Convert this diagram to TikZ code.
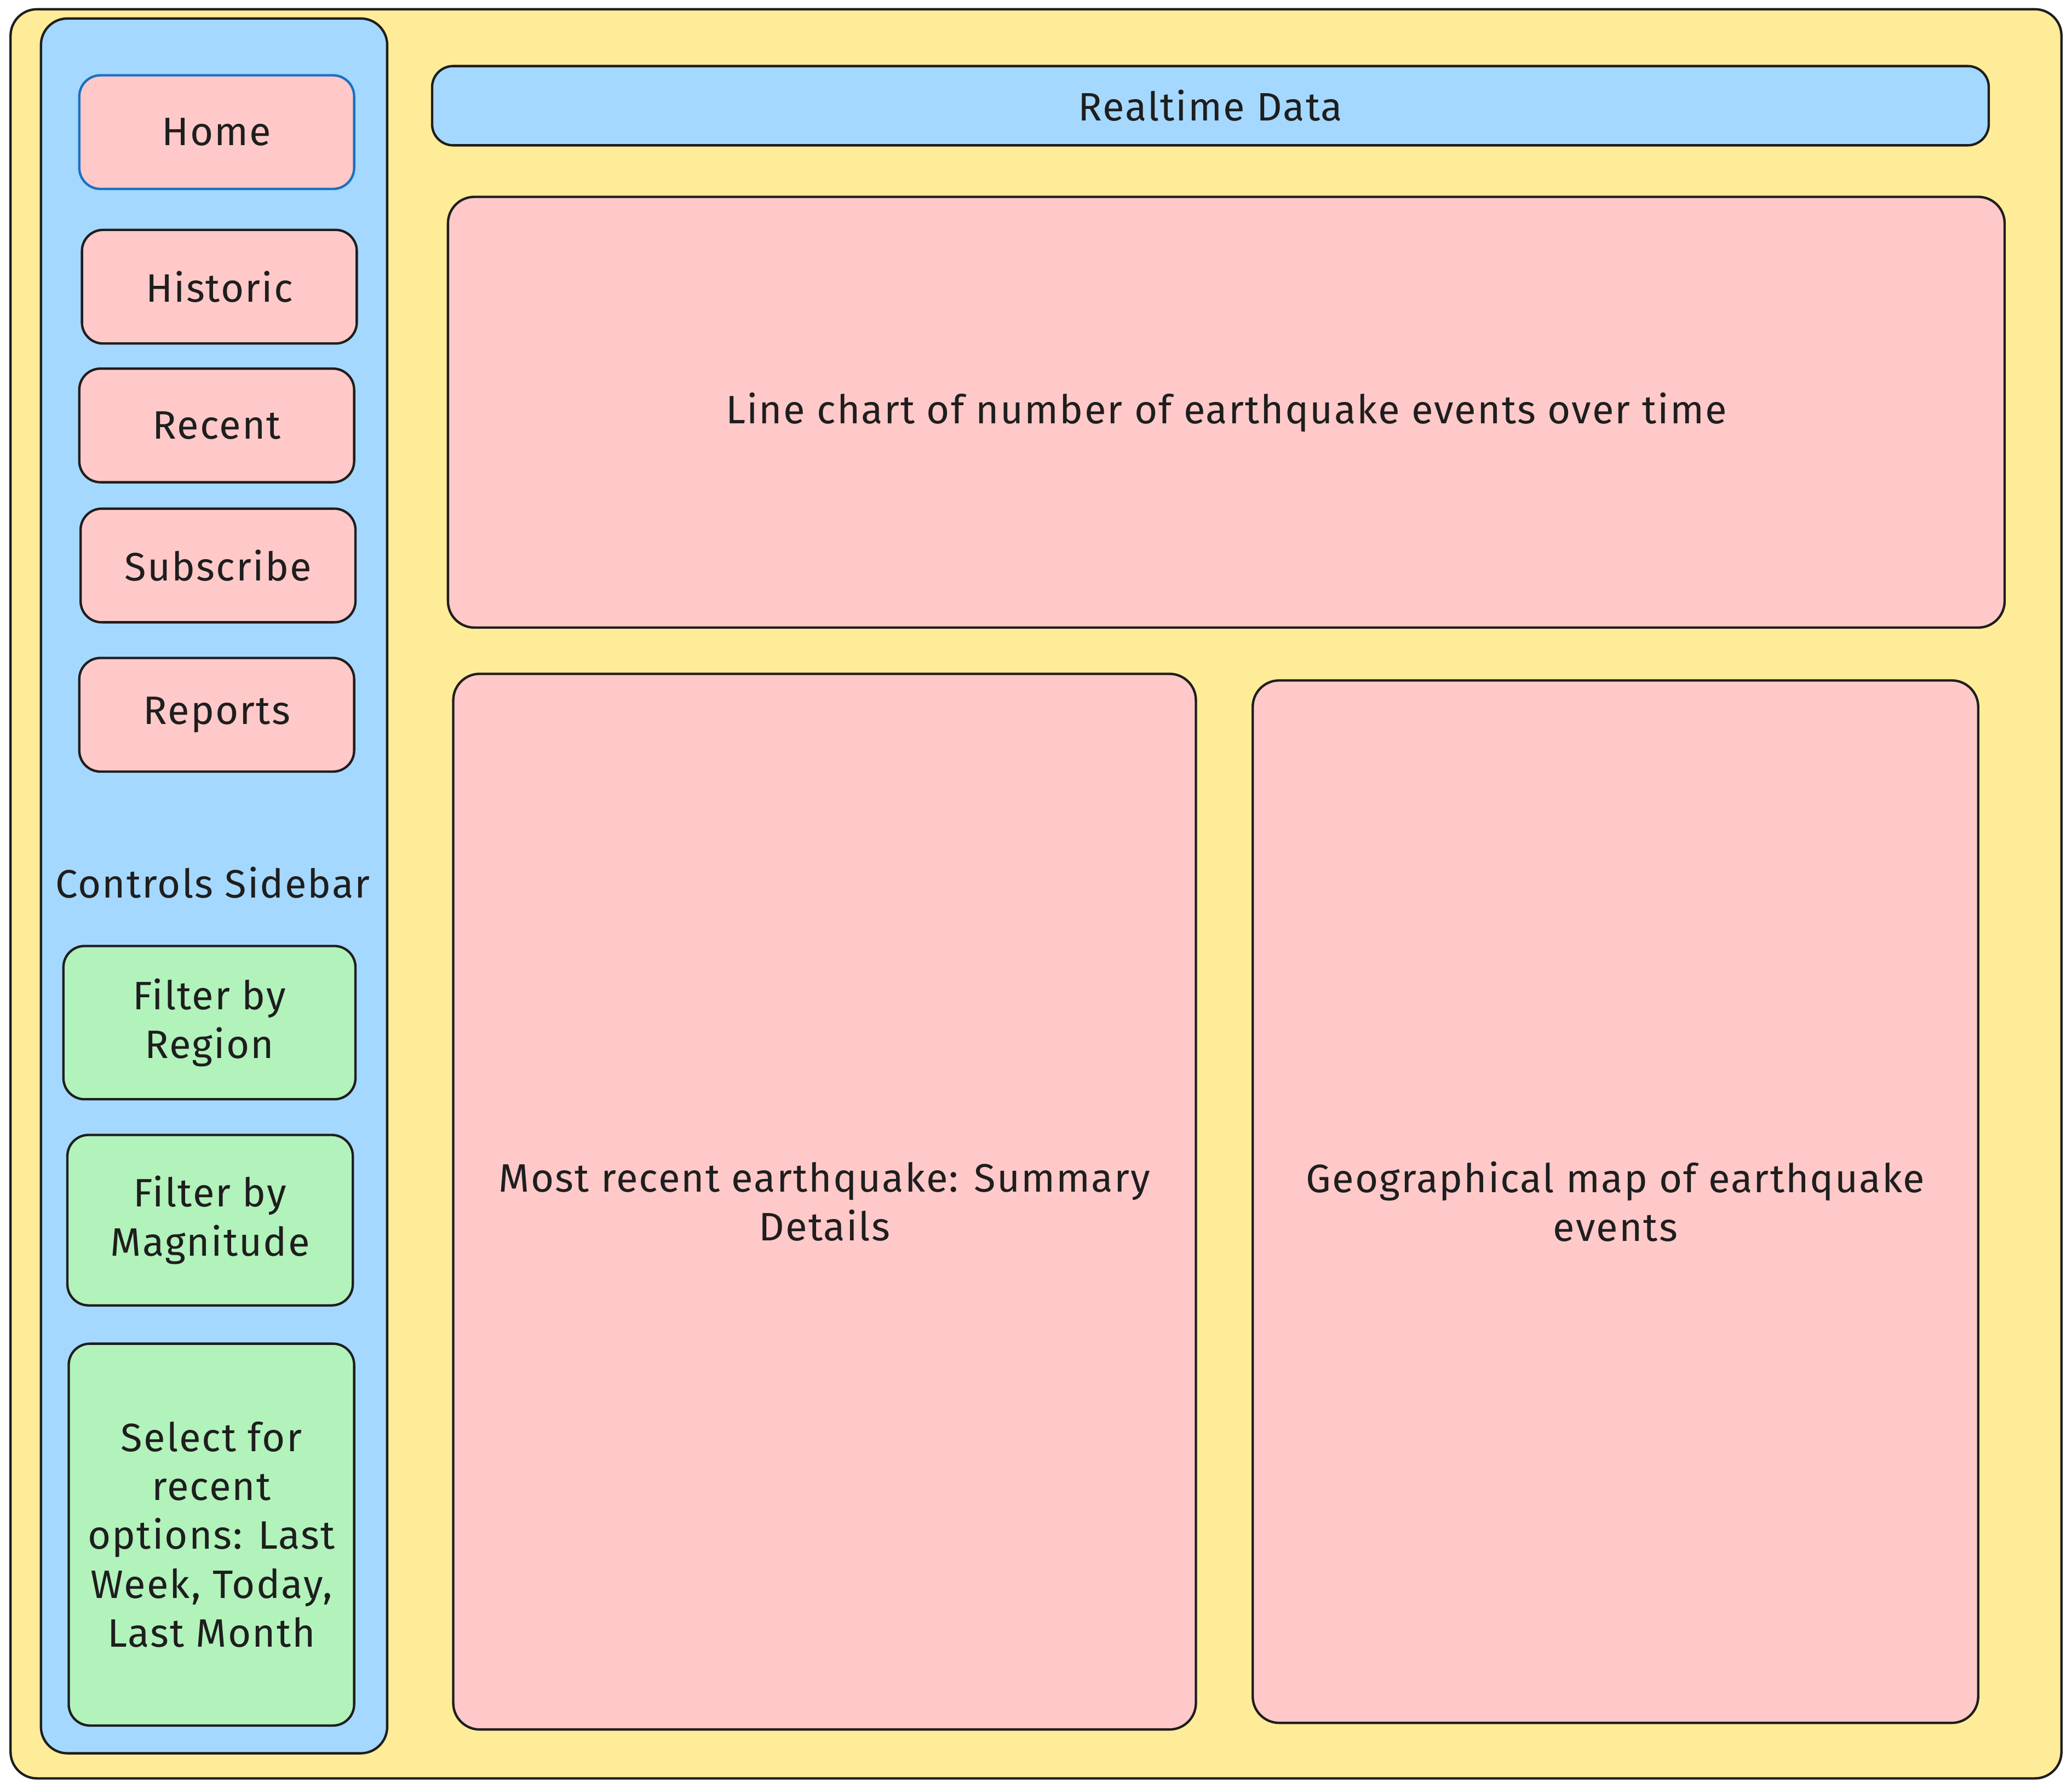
\documentclass[tikz,border=0pt]{standalone}
\usepackage{fontspec}
\setmainfont[LetterSpace=3]{Fira Sans}
\definecolor{ink}{HTML}{1E1E1E}
\definecolor{bgyellow}{HTML}{FFEC99}
\definecolor{sideblue}{HTML}{A5D8FF}
\definecolor{cardpink}{HTML}{FFC9C9}
\definecolor{ctrlgreen}{HTML}{B2F2BB}
\definecolor{selblue}{HTML}{1971C2}
\def\U{0.5pt}
\tikzset{
  base/.style={draw=ink, line width=0.9pt, rounded corners=8pt, text=ink,
    font=\fontsize{15}{18.5}\selectfont, align=center, inner sep=0pt},
  frame/.style={base, fill=bgyellow, rounded corners=10pt},
  sidebar/.style={base, fill=sideblue, rounded corners=10pt},
  navbtn/.style={base, fill=cardpink},
  ctrlbox/.style={base, fill=ctrlgreen},
  panel/.style={base, fill=cardpink, rounded corners=10pt},
  header/.style={base, fill=sideblue},
  plain/.style={text=ink, font=\fontsize{15}{18.5}\selectfont, align=center, inner sep=0pt}
}
\begin{document}
\begin{tikzpicture}[x=0.5pt, y=-0.5pt]
\useasboundingbox[fill=white] (0,0) rectangle (1568,1353);
\node[frame, minimum width=1552*\U, minimum height=1339*\U] (outer) at (784,676.5) {};
\node[sidebar, minimum width=262*\U, minimum height=1313*\U] (side) at (162,670.5) {};
\node[navbtn, draw=selblue, minimum width=208*\U, minimum height=86*\U] (home) at (164,100) {Home};
\node[navbtn, minimum width=208*\U, minimum height=86*\U] (historic) at (166,217) {Historic};
\node[navbtn, minimum width=208*\U, minimum height=86*\U] (recent) at (164,322) {Recent};
\node[navbtn, minimum width=208*\U, minimum height=86*\U] (subscribe) at (165,428) {Subscribe};
\node[navbtn, minimum width=208*\U, minimum height=86*\U] (reports) at (164,541) {Reports};
\node[plain] (ctrltitle) at (161,668) {Controls Sidebar};
\node[ctrlbox, minimum width=221*\U, minimum height=116*\U] (region) at (158.5,774) {Filter by\\Region};
\node[ctrlbox, minimum width=216*\U, minimum height=129*\U] (magnitude) at (159,923.5) {Filter by\\Magnitude};
\node[ctrlbox, minimum width=216*\U, minimum height=289*\U] (select) at (160,1161.5) {Select for\\recent\\options: Last\\Week, Today,\\Last Month};
\node[header, minimum width=1178*\U, minimum height=60*\U] (realtime) at (916,80) {Realtime Data};
\node[panel, minimum width=1178*\U, minimum height=326*\U] (linechart) at (928,312) {Line chart of number of earthquake events over time};
\node[panel, minimum width=562*\U, minimum height=799*\U] (mostrecent) at (624,909.5) {Most recent earthquake: Summary\\Details};
\node[panel, minimum width=549*\U, minimum height=789*\U] (geomap) at (1222.5,909.5) {Geographical map of earthquake\\events};
\end{tikzpicture}
\end{document}
